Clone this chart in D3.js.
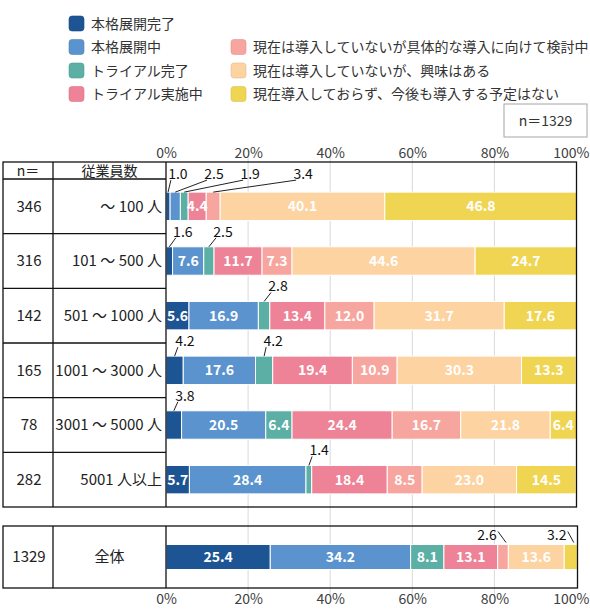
<!DOCTYPE html>
<html><head><meta charset="utf-8">
<script src="https://cdn.jsdelivr.net/npm/d3@7"></script>
<style>body{margin:0;background:#fff} svg{display:block}</style>
</head><body>
<svg id="c" width="590" height="609"></svg>
<script>
// ---------- data ----------
const seriesNames = ["本格展開完了","本格展開中","トライアル完了","トライアル実施中",
  "現在は導入していないが具体的な導入に向けて検討中","現在は導入していないが、興味はある","現在導入しておらず、今後も導入する予定はない"];
const seriesColors = ["#1d5494","#5a93ce","#5bafa4","#ee8296","#f6a69e","#fcd3a1","#f0d553"];
const categories = ["～ 100 人","101 ～ 500 人","501 ～ 1000 人","1001 ～ 3000 人","3001 ～ 5000 人","5001 人以上"];
const sampleSizes = [346,316,142,165,78,282];
const fullDone     = [1.0, 1.6, 5.6, 4.2, 3.8, 5.7];
const fullOngoing  = [2.5, 7.6, 16.9, 17.6, 20.5, 28.4];
const trialDone    = [1.9, 2.5, 2.8, 4.2, 6.4, 1.4];
const trialOngoing = [4.4, 11.7, 13.4, 19.4, 24.4, 18.4];
const considering  = [3.4, 7.3, 12.0, 10.9, 16.7, 8.5];
const interested   = [40.1, 44.6, 31.7, 30.3, 21.8, 23.0];
const noPlan       = [46.8, 24.7, 17.6, 13.3, 6.4, 14.5];
const totalLabel = "全体";
const totalN = 1329;
const totalValues = [25.4, 34.2, 8.1, 13.1, 2.6, 13.6, 3.2];
const tickValues = [0,20,40,60,80,100];
// callout labels for small segments: row index, series index, label position (in % units)
const callouts = [
  {row:0, s:0, at:2.9},{row:0, s:1, at:11.7},{row:0, s:2, at:20.5},{row:0, s:4, at:33.4},
  {row:1, s:0, at:4.1},{row:1, s:2, at:13.9},
  {row:2, s:2, at:27.3},
  {row:3, s:0, at:4.6},{row:3, s:2, at:26.1},
  {row:4, s:0, at:4.6},
  {row:5, s:2, at:37.3}
];
const totalCallouts = [{s:4, at:78.2},{s:6, at:95.2}];

// ---------- build ----------
const seriesArrays = [fullDone, fullOngoing, trialDone, trialOngoing, considering, interested, noPlan];
const rows = categories.map((c,i)=>{const o={cat:c,n:sampleSizes[i]}; seriesArrays.forEach((a,j)=>o["s"+j]=a[i]); return o;});
const totalRow = {cat:totalLabel, n:totalN}; totalValues.forEach((v,j)=>totalRow["s"+j]=v);
const keys = seriesNames.map((d,i)=>"s"+i);
const stack = d3.stack().keys(keys);

const FONT = "'Noto Sans CJK JP','Noto Sans',sans-serif";
const svg = d3.select("#c").style("font-family", FONT);

const tblL = 3, colN = 53, plotL = 166, plotR = 576.5;
const topT = 162, headB = 179, topB = 507;
const botT = 526, botB = 588;

const x = d3.scaleLinear().domain([0,100]).range([plotL, plotR]);
const y = d3.scaleBand().domain(categories).range([headB, topB]);
const yTot = d3.scaleBand().domain([totalLabel]).range([botT, botB]);
const barH = y.bandwidth()*0.52;
const barHT = 25;

// gridlines
svg.append("g").selectAll("line").data(tickValues.filter(t=>t>0 && t<100)).join("line")
  .attr("x1", d=>x(d)).attr("x2", d=>x(d)).attr("y1", 157).attr("y2", 596)
  .attr("stroke", "#d9d9d9").attr("stroke-width", 1);

// axes
const fmt = d=>d+"%";
const axT = svg.append("g").attr("transform", `translate(0,${topT-4})`)
  .call(d3.axisTop(x).tickValues(tickValues).tickFormat(fmt).tickSize(0).tickPadding(0));
const axB = svg.append("g").attr("transform", `translate(0,${botB+4})`)
  .call(d3.axisBottom(x).tickValues(tickValues).tickFormat(fmt).tickSize(0).tickPadding(0));
[axT, axB].forEach(a=>{a.select(".domain").remove();
  a.selectAll("text").style("font-family", FONT).style("font-size","14px").attr("fill","#404040");
  a.selectAll(".tick").filter(d=>d===100).select("text")
    .attr("text-anchor","end").attr("x", 589 - x(100));
});
axB.selectAll("text").attr("dy","0.85em");

// bars
function drawBars(data, yScale, h){
  const st = stack(data);
  const g = svg.append("g");
  st.forEach((layer, si)=>{
    g.append("g").selectAll("rect").data(layer).join("rect")
      .attr("x", d=>x(d[0])).attr("width", d=>x(d[1])-x(d[0]))
      .attr("y", d=>yScale(d.data.cat)+yScale.bandwidth()/2-h/2).attr("height", h)
      .attr("fill", seriesColors[si]).attr("stroke","#fff").attr("stroke-width",1);
  });
  return st;
}
const stTop = drawBars(rows, y, barH);
const stBot = drawBars([totalRow], yTot, barHT);

// inside labels
function insideLabels(st, yScale, skip){
  const g = svg.append("g");
  st.forEach((layer, si)=>{
    layer.forEach((d, ri)=>{
      if (skip(ri, si)) return;
      const v = d.data["s"+si];
      g.append("text").attr("x", (x(d[0])+x(d[1]))/2).attr("y", yScale(d.data.cat)+yScale.bandwidth()/2)
        .attr("dy","0.36em").attr("text-anchor","middle").attr("fill","#fff")
        .style("font-size","14px").style("font-weight","bold").text(v.toFixed(1));
    });
  });
}
insideLabels(stTop, y, (ri,si)=>callouts.some(c=>c.row===ri && c.s===si));
insideLabels(stBot, yTot, (ri,si)=>totalCallouts.some(c=>c.s===si));

// callouts
function drawCallout(st, yScale, ri, si, at, h, lift){
  const d = st[si][ri];
  const v = d.data["s"+si];
  const cx = (x(d[0])+x(d[1]))/2;
  const top = yScale(d.data.cat)+yScale.bandwidth()/2-h/2;
  const lx = x(at);
  const g = svg.append("g");
  let ly;
  if (lx > cx){
    ly = top-15-lift;
    g.append("line").attr("x1", lx-7).attr("y1", ly+6).attr("x2", cx).attr("y2", top)
      .attr("stroke","#222").attr("stroke-width",1);
  } else {
    ly = top-10;
    g.append("line").attr("x1", lx+11).attr("y1", ly-3).attr("x2", cx+3).attr("y2", top-2)
      .attr("stroke","#222").attr("stroke-width",1);
  }
  g.append("text").attr("x", lx).attr("y", ly).attr("dy","0.36em").attr("text-anchor","middle")
    .attr("fill","#111").style("font-size","14px").text(v.toFixed(1));
}
callouts.forEach(c=>drawCallout(stTop, y, c.row, c.s, c.at, barH, c.row===0 ? 3 : 0));
totalCallouts.forEach(c=>drawCallout(stBot, yTot, 0, c.s, c.at, barHT, 0));

// table frames
const fr = svg.append("g").attr("stroke","#111").attr("stroke-width",1.3).attr("fill","none");
fr.append("rect").attr("x", tblL).attr("y", topT).attr("width", plotR-tblL).attr("height", topB-topT);
fr.append("line").attr("x1", colN).attr("x2", colN).attr("y1", topT).attr("y2", topB);
fr.append("line").attr("x1", plotL).attr("x2", plotL).attr("y1", topT).attr("y2", topB);
fr.append("line").attr("x1", tblL).attr("x2", plotL).attr("y1", headB).attr("y2", headB);
fr.selectAll("line.row").data(categories.slice(1)).join("line").attr("class","row")
  .attr("x1", tblL).attr("x2", plotL).attr("y1", d=>y(d)).attr("y2", d=>y(d));
fr.append("rect").attr("x", tblL).attr("y", botT).attr("width", plotR+1-tblL).attr("height", botB-botT);
fr.append("line").attr("x1", colN).attr("x2", colN).attr("y1", botT).attr("y2", botB);
fr.append("line").attr("x1", plotL).attr("x2", plotL).attr("y1", botT).attr("y2", botB);

// table text
const tt = svg.append("g").attr("fill","#222").style("font-size","15px");
tt.append("text").attr("x", (tblL+colN)/2).attr("y", (topT+headB)/2).attr("dy","0.36em").attr("text-anchor","middle").style("font-size","14px").text("n＝");
tt.append("text").attr("x", (colN+plotL)/2).attr("y", (topT+headB)/2).attr("dy","0.36em").attr("text-anchor","middle").style("font-size","14px").text("従業員数");
rows.forEach(r=>{
  const cy = y(r.cat)+y.bandwidth()/2;
  tt.append("text").attr("x", (tblL+colN)/2+1).attr("y", cy).attr("dy","0.36em").attr("text-anchor","middle").text(r.n);
  tt.append("text").attr("x", plotL-4).attr("y", cy).attr("dy","0.36em").attr("text-anchor","end").text(r.cat);
});
tt.selectAll("text").filter(function(){return this.getAttribute("text-anchor")==="end";}).each(function(){
  const w = this.getComputedTextLength(), avail = plotL-4-colN-2;
  if (w > avail) d3.select(this).attr("textLength", avail).attr("lengthAdjust","spacingAndGlyphs");
});
const tcy = yTot(totalLabel)+yTot.bandwidth()/2;
tt.append("text").attr("x", (tblL+colN)/2+1).attr("y", tcy).attr("dy","0.36em").attr("text-anchor","middle").text(totalN);
tt.append("text").attr("x", (colN+plotL)/2).attr("y", tcy).attr("dy","0.36em").attr("text-anchor","middle").text(totalLabel);

// legend
const leg = svg.append("g").style("font-size","14px");
const legPos = [[69,23.5],[69,47],[69,70.5],[69,94],[231,47],[231,70.5],[231,94]];
seriesNames.forEach((n,i)=>{
  const [lx,ly] = legPos[i];
  leg.append("rect").attr("x", lx).attr("y", ly-7.5).attr("width",15).attr("height",15).attr("rx",3)
    .attr("fill", seriesColors[i]).attr("stroke", d3.color(seriesColors[i]).darker(0.3)).attr("stroke-width",0.6);
  leg.append("text").attr("x", lx+22).attr("y", ly).attr("dy","0.36em").attr("fill","#333").text(n);
});
// n box
svg.append("rect").attr("x",504).attr("y",104).attr("width",83).attr("height",33)
  .attr("fill","#fff").attr("stroke","#a6a6a6").attr("stroke-width",1);
svg.append("text").attr("x",545.5).attr("y",120.5).attr("dy","0.36em").attr("text-anchor","middle")
  .attr("fill","#333").style("font-size","14px").text("n＝" + totalN);
</script>
</body></html>
